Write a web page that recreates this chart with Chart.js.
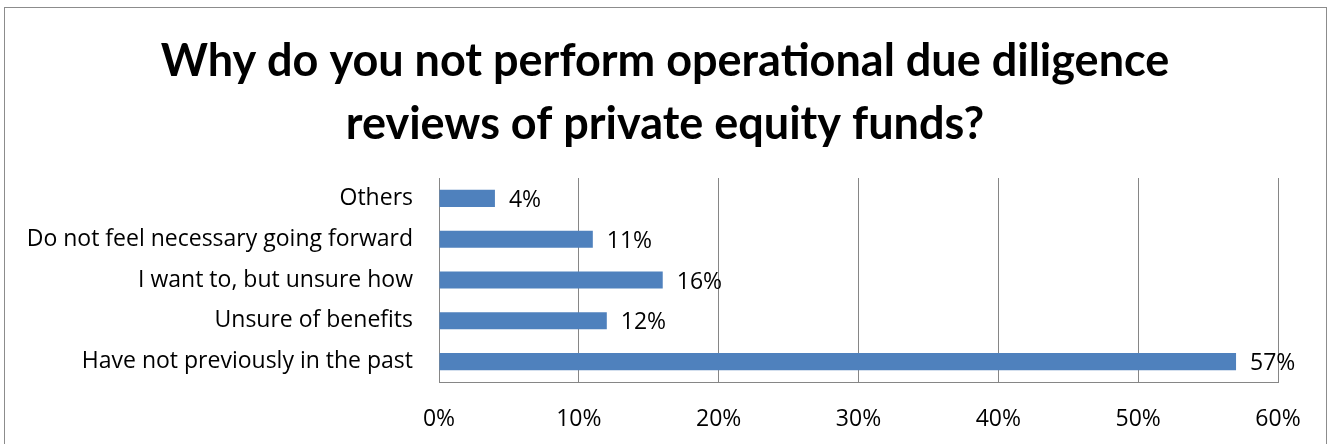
<!DOCTYPE html>
<html>
<head>
<meta charset="utf-8">
<script src="https://cdn.jsdelivr.net/npm/chart.js@4.4.1/dist/chart.umd.min.js"></script>
<style>
    html, body { margin: 0; padding: 0; background: #fff; overflow: hidden; }
    #wrap { position: relative; width: 1330px; height: 444px; }
    #frame {
        position: absolute; left: 4px; top: 7px; width: 1323px; height: 460px;
        border: 1px solid #8c8c8c; pointer-events: none; box-sizing: border-box;
    }
</style>
</head>
<body>
<div id="wrap">
    <canvas id="chart_0" width="1330" height="444"></canvas>
    <div id="frame"></div>
</div>
<script>
// Chart data
const titleLines = ['Why do you not perform operational due diligence', 'reviews of private equity funds?'];
const reasons = [
    'Others',
    'Do not feel necessary going forward',
    'I want to, but unsure how',
    'Unsure of benefits',
    'Have not previously in the past'
];
const shares = [4, 11, 16, 12, 57];
const xTicks = [0, 10, 20, 30, 40, 50, 60];

const TITLE_FONT = 'Lato, "Open Sans", sans-serif';
const FONT = '"Open Sans", Lato, sans-serif';
const GRID = '#868686';

// Draws the value label just past the end of each bar
const valueLabels = {
    id: 'valueLabels',
    afterDatasetsDraw(chart) {
        const ctx = chart.ctx;
        const meta = chart.getDatasetMeta(0);
        ctx.save();
        ctx.font = '23px ' + FONT;
        ctx.fillStyle = '#000';
        ctx.textAlign = 'left';
        ctx.textBaseline = 'middle';
        meta.data.forEach((bar, i) => {
            ctx.fillText(shares[i] + '%', bar.x + 14, bar.y + 2);
        });
        ctx.restore();
    }
};

// Centre the title on the whole canvas, not on the padded layout box
const centreTitle = {
    id: 'centreTitle',
    afterLayout(chart) {
        if (chart.titleBlock) {
            chart.titleBlock.left = 0;
            chart.titleBlock.right = chart.width;
            chart.titleBlock.width = chart.width;
        }
    }
};

function createChart0() {
    const ctx = document.getElementById('chart_0');
    if (!ctx) {
        console.error('Canvas element with id "chart_0" not found');
        return;
    }

    new Chart(ctx.getContext('2d'), {
        type: 'bar',
        data: {
            labels: reasons,
            datasets: [{
                data: shares,
                backgroundColor: '#4F81BD',
                borderWidth: 0,
                barPercentage: 0.42,
                categoryPercentage: 1
            }]
        },
        options: {
            indexAxis: 'y',
            responsive: false,
            animation: false,
            layout: { padding: { left: 0, right: 52, top: 0, bottom: 0 } },
            plugins: {
                legend: { display: false },
                tooltip: { enabled: false },
                title: {
                    display: true,
                    text: titleLines,
                    color: '#000',
                    font: { family: TITLE_FONT, size: 45, weight: 'bold', lineHeight: 1.4 },
                    padding: { top: 30, bottom: 22 }
                }
            },
            scales: {
                x: {
                    min: 0,
                    max: 60,
                    afterBuildTicks(scale) {
                        scale.ticks = xTicks.map(v => ({ value: v }));
                    },
                    afterFit(scale) { scale.height = 62; },
                    ticks: {
                        color: '#000',
                        font: { family: FONT, size: 23 },
                        padding: 24,
                        maxRotation: 0,
                        callback: v => v + '%'
                    },
                    grid: { color: GRID, lineWidth: 1, drawTicks: false },
                    border: { display: true, color: GRID, width: 1 }
                },
                y: {
                    afterFit(scale) { scale.width = 439; },
                    ticks: {
                        color: '#000',
                        font: { family: FONT, size: 23 },
                        padding: 26
                    },
                    grid: { display: false, drawTicks: false },
                    border: { display: true, color: GRID, width: 1 }
                }
            }
        },
        plugins: [valueLabels, centreTitle]
    });
}

createChart0();
</script>
</body>
</html>
